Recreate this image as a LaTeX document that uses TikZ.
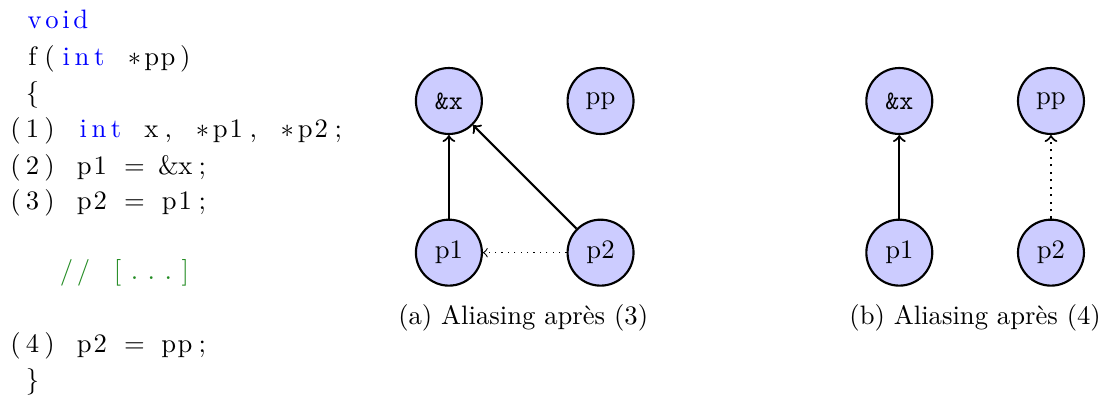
\documentclass[tikz,border=0pt]{standalone}
\usepackage{xcolor}
\definecolor{commentgreen}{RGB}{34,139,34}
\makeatletter
\newdimen\codecolwd \codecolwd=6.375pt
\newcount\codecnt
% one character per fixed column, as in the listing
\newcommand\codecols[1]{\@tfor\codechr:=#1\do{\makebox[\codecolwd][c]{\codechr}}}
% a word: its letters spread over as many columns as it has letters
\newcommand\cw[1]{\codecnt=0 \def\codebody{\hss}%
  \@tfor\codechr:=#1\do{\advance\codecnt by 1
    \edef\codebody{\unexpanded\expandafter{\codebody}\unexpanded\expandafter{\codechr}\noexpand\hss}}%
  \hbox to \codecnt\codecolwd{\codebody}}
\makeatother
\begin{document}
\begin{tikzpicture}[
    var/.style={circle, draw, thick, fill=blue!20, minimum size=0.87cm, inner sep=0pt},
    ptr/.style={->, thick},
    alias/.style={->, dotted},
    codeline/.style={anchor=base west, inner sep=0pt}
  ]
        % Page size
        \useasboundingbox (0,0) rectangle (14.533, 5.262);

        % Code
        \node[codeline] (l0) at (0.086, 4.880) {\codecols{~}\textcolor{blue}{\cw{void}}};
        \node[codeline] (l1) at (0.086, 4.401) {\codecols{~}\cw{f}\codecols{(}\textcolor{blue}{\cw{int}}\codecols{~{$\ast$}}\cw{pp}\codecols{)}};
        \node[codeline] (l2) at (0.086, 3.923) {\codecols{~{\{}}};
        \node[codeline] (l3) at (0.086, 3.449) {\codecols{(1)~}\textcolor{blue}{\cw{int}}\codecols{~}\cw{x}\codecols{,~{$\ast$}}\cw{p1}\codecols{,~{$\ast$}}\cw{p2}\codecols{;}};
        \node[codeline] (l4) at (0.086, 2.967) {\codecols{(2)~}\cw{p1}\codecols{~=~{\&}}\cw{x}\codecols{;}};
        \node[codeline] (l5) at (0.086, 2.493) {\codecols{(3)~}\cw{p2}\codecols{~=~}\cw{p1}\codecols{;}};
        \node[codeline] (l7) at (0.086, 1.570) {\textcolor{commentgreen}{\codecols{~~~//~[...]}}};
        \node[codeline] (l9) at (0.086, 0.607) {\codecols{(4)~}\cw{p2}\codecols{~=~}\cw{pp}\codecols{;}};
        \node[codeline] (l10) at (0.086, 0.132) {\codecols{~{\}}}};

        % (a) after (3)
        \node[var] (xa) at (5.92, 3.93) {\texttt{\&x}};
        \node[var] (ppa) at (7.92, 3.93) {pp};
        \node[var] (p1a) at (5.92, 1.93) {p1};
        \node[var] (p2a) at (7.92, 1.93) {p2};
        \draw[ptr] (p1a) -- (xa);
        \draw[ptr] (p2a) -- (xa);
        \draw[alias] (p2a) -- (p1a);
        \node[anchor=base] (capa) at (6.90, 0.976) {(a) Aliasing après (3)};

        % (b) after (4)
        \node[var] (xb) at (11.86, 3.93) {\texttt{\&x}};
        \node[var] (ppb) at (13.86, 3.93) {pp};
        \node[var] (p1b) at (11.86, 1.93) {p1};
        \node[var] (p2b) at (13.86, 1.93) {p2};
        \draw[ptr] (p1b) -- (xb);
        \draw[alias, thick] (p2b) -- (ppb);
        \node[anchor=base] (capb) at (12.86, 0.976) {(b) Aliasing après (4)};
\end{tikzpicture}
\end{document}
